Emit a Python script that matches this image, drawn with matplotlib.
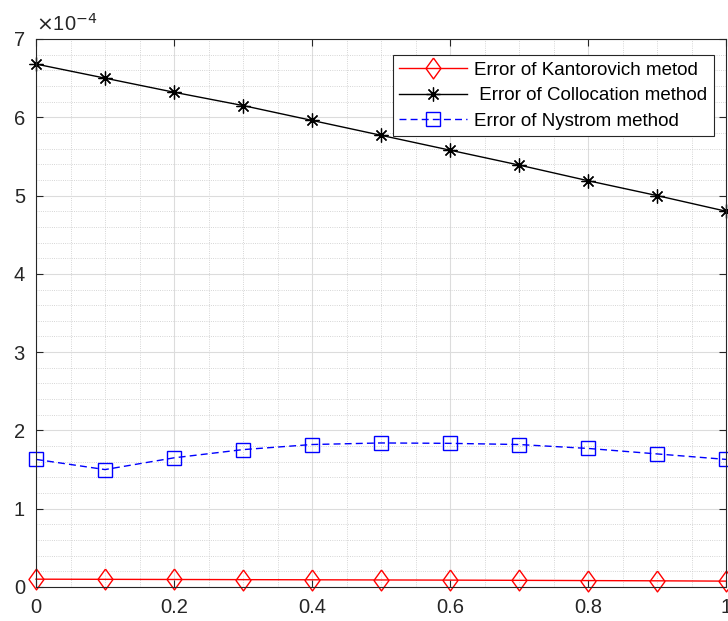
import matplotlib
matplotlib.use("Agg")
import matplotlib.pyplot as plt
from matplotlib.ticker import MultipleLocator, FuncFormatter

plt.rcParams['font.family'] = ['Liberation Sans', 'DejaVu Sans']

# data (values in units of 1e-4)
x = [0.0, 0.1, 0.2, 0.3, 0.4, 0.5, 0.6, 0.7, 0.8, 0.9, 1.0]
kantorovich = [0.100, 0.098, 0.096, 0.094, 0.092, 0.090, 0.088, 0.085, 0.082, 0.079, 0.075]
collocation = [6.68, 6.50, 6.32, 6.15, 5.96, 5.77, 5.58, 5.39, 5.19, 5.00, 4.80]
nystrom = [1.63, 1.50, 1.65, 1.755, 1.82, 1.84, 1.835, 1.82, 1.77, 1.70, 1.63]
scale = 1e-4

labels = ['Error of Kantorovich metod', ' Error of Collocation method', 'Error of Nystrom method']

# MATLAB-like diamond (a bit taller than wide)
diamond = [(0, 1), (0.72, 0), (0, -1), (-0.72, 0), (0, 1)]

fig = plt.figure(figsize=(7.28, 6.21), dpi=100)
ax = fig.add_axes([36 / 728, 1 - 587 / 621, 690 / 728, 548 / 621])

ax.plot(x, [v * scale for v in kantorovich], '-', color='red', lw=1,
        marker=diamond, markersize=15, markerfacecolor='none', markeredgewidth=1,
        label=labels[0], clip_on=False)
ax.plot(x, [v * scale for v in collocation], '-', color='black', lw=1,
        marker=(8, 2, 0), markersize=10, markeredgewidth=0.9,
        label=labels[1], clip_on=False)
ax.plot(x, [v * scale for v in nystrom], '--', color='blue', lw=1, dashes=(5, 3),
        marker='s', markersize=10, markerfacecolor='none', markeredgewidth=1,
        label=labels[2], clip_on=False)

ax.set_xlim(0, 1)
ax.set_ylim(0, 7e-4)
ax.xaxis.set_major_locator(MultipleLocator(0.2))
ax.xaxis.set_minor_locator(MultipleLocator(0.05))
ax.yaxis.set_major_locator(MultipleLocator(1e-4))
ax.yaxis.set_minor_locator(MultipleLocator(0.2e-4))
ax.yaxis.set_major_formatter(FuncFormatter(lambda v, p: '%d' % round(v / scale)))
ax.xaxis.set_major_formatter(FuncFormatter(lambda v, p: '%g' % round(v, 1)))

ax.grid(True, which='major', color='#dcdcdc', lw=0.8, linestyle='-')
ax.grid(True, which='minor', color='#c8c8c8', lw=0.6, linestyle=':')
ax.set_axisbelow(True)

ax.tick_params(which='major', direction='in', length=5, width=0.8, top=True, right=True,
               labelsize=14.5, colors='#262626', pad=8)
ax.tick_params(which='minor', length=0)
for s in ax.spines.values():
    s.set_color('#262626')
    s.set_linewidth(0.8)

ax.text(0.0, 1.008, r'$\times$10$^{-4}$', transform=ax.transAxes, fontsize=14.5,
        color='#262626', ha='left', va='bottom')

leg = ax.legend(loc='upper right', bbox_to_anchor=((714 - 36) / 690, 1 - 16 / 548),
                fontsize=13.5, handlelength=3.6, borderpad=0.35, labelspacing=0.45,
                handletextpad=0.4, fancybox=False, framealpha=1, edgecolor='#262626',
                borderaxespad=0)
leg.get_frame().set_linewidth(0.8)

fig.savefig('out.png', dpi=100)
